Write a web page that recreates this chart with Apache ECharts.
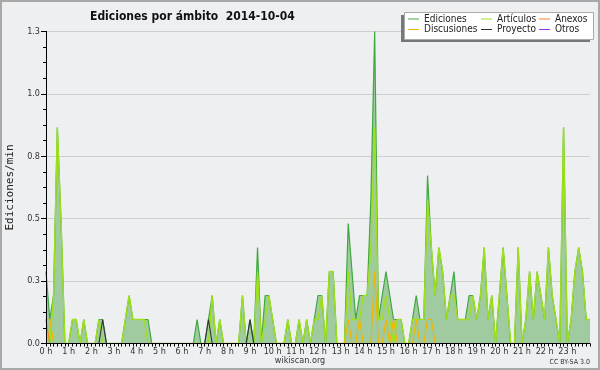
<!DOCTYPE html>
<html><head><meta charset="utf-8">
<script src="https://cdn.jsdelivr.net/npm/echarts@6/dist/echarts.min.js"></script>
<style>html,body{margin:0;padding:0;background:#eeeff1}#c{width:600px;height:370px}</style>
</head><body><div id="c"></div>
<script>
// 10-minute bins, 6 per hour, 0 h .. 24 h
const binsPerHour = 6;
const hourLabels = ['0 h','1 h','2 h','3 h','4 h','5 h','6 h','7 h','8 h','9 h','10 h','11 h',
  '12 h','13 h','14 h','15 h','16 h','17 h','18 h','19 h','20 h','21 h','22 h','23 h'];
const seriesNames = ['Ediciones','Artículos','Anexos','Discusiones','Proyecto','Otros'];

const ediciones = [
  0.3,0.1,0.2,0.9,0.5,0,0,0.1,0.1,0,
  0.1,0,0,0,0.1,0.1,0,0,0,0,
  0,0.1,0.2,0.1,0.1,0.1,0.1,0.1,0,0,
  0,0,0,0,0,0,0,0,0,0,
  0.1,0,0,0.1,0.2,0,0.1,0,0,0,
  0,0,0.2,0,0.1,0,0.4,0,0.2,0.2,
  0.1,0,0,0,0.1,0,0,0.1,0,0.1,
  0,0.1,0.2,0.2,0,0.3,0.3,0,0,0,
  0.5,0.3,0.1,0.2,0.2,0.2,0.6,1.3,0.1,0.2,
  0.3,0.2,0.1,0.1,0.1,0,0,0.1,0.2,0.1,
  0.1,0.7,0.4,0.2,0.4,0.3,0.1,0.2,0.3,0.1,
  0.1,0.1,0.2,0.2,0.1,0.2,0.4,0.1,0.2,0,
  0.2,0.4,0.2,0,0,0.4,0,0.1,0.3,0.1,
  0.3,0.2,0.1,0.4,0.2,0.1,0,0.9,0,0.1,
  0.3,0.4,0.3,0.1,0.1
];
const articulos = [
  0.1,0,0.2,0.9,0.5,0,0,0.1,0.1,0,
  0.1,0,0,0,0.1,0,0,0,0,0,
  0,0.1,0.2,0.1,0.1,0.1,0.1,0,0,0,
  0,0,0,0,0,0,0,0,0,0,
  0,0,0,0,0.2,0,0.1,0,0,0,
  0,0,0.2,0,0,0,0.3,0,0.1,0.2,
  0.1,0,0,0,0.1,0,0,0.1,0,0.1,
  0,0.1,0.1,0.2,0,0.3,0.3,0,0,0,
  0.3,0.1,0.1,0.1,0.2,0.2,0.4,0.9,0.1,0.1,
  0.2,0.1,0,0.1,0.1,0,0,0.1,0.1,0.1,
  0.1,0.6,0.4,0.2,0.4,0.3,0.1,0.2,0.2,0.1,
  0.1,0.1,0.1,0.2,0.1,0.2,0.4,0.1,0.2,0,
  0.2,0.4,0.2,0,0,0.4,0,0.1,0.3,0.1,
  0.3,0.2,0.1,0.4,0.2,0.1,0,0.9,0,0.1,
  0.3,0.4,0.3,0.1,0.1
];
const anexos = [
  0.1,0,0,0,0,0,0,0,0,0,
  0,0,0,0,0,0,0,0,0,0,
  0,0,0,0,0,0,0,0,0,0,
  0,0,0,0,0,0,0,0,0,0,
  0,0,0,0,0,0,0,0,0,0,
  0,0,0,0,0,0,0,0,0,0,
  0,0,0,0,0,0,0,0,0,0,
  0,0,0,0,0,0,0,0,0,0,
  0,0,0,0,0,0,0,0,0,0,
  0,0,0,0,0,0,0,0,0,0,
  0,0,0,0,0,0,0,0,0,0,
  0,0,0,0,0,0,0,0,0,0,
  0,0,0,0,0,0,0,0,0,0,
  0,0,0,0,0,0,0,0,0,0,
  0,0,0,0,0
];
const discusiones = [
  0.1,0.1,0,0,0,0,0,0,0,0,
  0,0,0,0,0,0,0,0,0,0,
  0,0,0,0,0,0,0,0,0,0,
  0,0,0,0,0,0,0,0,0,0,
  0,0,0,0,0,0,0,0,0,0,
  0,0,0,0,0,0,0,0,0,0,
  0,0,0,0,0,0,0,0,0,0,
  0,0,0,0,0,0,0,0,0,0,
  0.1,0,0,0.1,0,0,0,0.3,0,0,
  0.1,0,0.1,0,0,0,0,0,0.1,0,
  0,0.1,0.1,0,0,0,0,0,0,0,
  0,0,0,0,0,0,0,0,0,0,
  0,0,0,0,0,0,0,0,0,0,
  0,0,0,0,0,0,0,0,0,0,
  0,0,0,0,0
];
const proyecto = [
  0,0,0,0,0,0,0,0,0,0,
  0,0,0,0,0,0.1,0,0,0,0,
  0,0,0,0,0,0,0,0,0,0,
  0,0,0,0,0,0,0,0,0,0,
  0,0,0,0.1,0,0,0,0,0,0,
  0,0,0,0,0.1,0,0,0,0,0,
  0,0,0,0,0,0,0,0,0,0,
  0,0,0,0,0,0,0,0,0,0,
  0,0,0,0,0,0,0,0,0,0,
  0,0,0,0,0,0,0,0,0,0,
  0,0,0,0,0,0,0,0,0,0,
  0,0,0,0,0,0,0,0,0,0,
  0,0,0,0,0,0,0,0,0,0,
  0,0,0,0,0,0,0,0,0,0,
  0,0,0,0,0
];
const otros = [
  0,0,0,0,0,0,0,0,0,0,
  0,0,0,0,0,0,0,0,0,0,
  0,0,0,0,0,0,0,0,0,0,
  0,0,0,0,0,0,0,0,0,0,
  0,0,0,0,0,0,0,0,0,0,
  0,0,0,0,0,0,0,0,0,0,
  0,0,0,0,0,0,0,0,0,0,
  0,0,0,0,0,0,0,0,0,0,
  0,0,0,0,0,0,0,0,0,0,
  0,0,0,0,0,0,0,0,0,0,
  0,0,0,0,0,0,0,0,0,0,
  0,0,0,0,0,0,0,0,0,0,
  0,0,0,0,0,0,0,0,0,0,
  0,0,0,0,0,0,0,0,0,0,
  0,0,0,0,0
];

const FONT = "'DejaVu Sans Condensed','DejaVu Sans',sans-serif";
const toPairs = arr => arr.map((v, i) => [i / binsPerHour, v]);

const colors = {
  'Ediciones': '#45aa45',
  'Artículos': '#9fe01c',
  'Anexos': '#ff7f2a',
  'Discusiones': '#f2b400',
  'Proyecto': '#333333',
  'Otros': '#9933ee'
};
const widths = {
  'Ediciones': 1.2, 'Artículos': 1.4, 'Anexos': 1.1,
  'Discusiones': 1.2, 'Proyecto': 1.1, 'Otros': 1
};
const seriesData = {
  'Ediciones': ediciones, 'Artículos': articulos, 'Anexos': anexos,
  'Discusiones': discusiones, 'Proyecto': proyecto, 'Otros': otros
};
// legend slots: [left, top]
const legendPos = {
  'Ediciones': [408, 14], 'Artículos': [481, 14], 'Anexos': [539, 14],
  'Discusiones': [408, 24.5], 'Proyecto': [481, 24.5], 'Otros': [539, 24.5]
};
const drawOrder = ['Ediciones','Artículos','Anexos','Discusiones','Proyecto','Otros'];

const chart = echarts.init(document.getElementById('c'), null, {renderer: 'canvas'});
const option = {
  backgroundColor: '#eeeff1',
  animation: false,
  title: {
    text: 'Ediciones por ámbito  2014-10-04',
    left: 85, top: 6,
    textStyle: {fontFamily: FONT, fontSize: 12, fontWeight: 'bold', color: '#111'}
  },
  grid: {left: 46, right: 10, top: 31.5, bottom: 26.5, containLabel: false, outerBoundsMode: 'none'},
  xAxis: {
    type: 'value', min: 0, max: 24, interval: 1, z: 10,
    axisLine: {lineStyle: {color: '#000', width: 1}},
    axisTick: {length: 3, lineStyle: {color: '#000'}},
    minorTick: {show: true, splitNumber: binsPerHour, length: 3, lineStyle: {color: '#000'}},
    axisLabel: {formatter: v => hourLabels[v] || '', fontSize: 9, color: '#333', margin: 4, fontFamily: FONT},
    splitLine: {show: false}
  },
  yAxis: [{
    type: 'value', min: 0, max: 1.3, interval: 0.26,
    name: 'Ediciones/min', nameLocation: 'middle', nameGap: 30,
    nameTextStyle: {fontFamily: "'DejaVu Sans Mono',monospace", fontSize: 11, color: '#222'},
    axisLine: {show: true, lineStyle: {color: '#000'}},
    axisTick: {show: true, length: 5, lineStyle: {color: '#000'}},
    minorTick: {show: true, splitNumber: 4, length: 3, lineStyle: {color: '#000'}},
    axisLabel: {formatter: v => v.toFixed(1), fontSize: 9, color: '#333', margin: 6, fontFamily: FONT},
    splitLine: {lineStyle: {color: '#cfcfcf', width: 1}}
  }, {
    type: 'value', min: 0, max: 1.3, position: 'left', z: 10,
    axisLine: {show: true, lineStyle: {color: '#000'}},
    axisTick: {show: false}, axisLabel: {show: false}, splitLine: {show: false}
  }],
  legend: seriesNames.map(n => ({
    data: [n], left: legendPos[n][0], top: legendPos[n][1], padding: 0,
    itemWidth: 11, itemHeight: 1, icon: 'rect', itemGap: 0, selectedMode: false, z: 20,
    textStyle: {fontSize: 10, fontFamily: FONT, color: '#222', lineHeight: 10}
  })),
  graphic: [
    {type: 'rect', shape: {x: 1, y: 1, width: 598, height: 368}, style: {fill: 'none', stroke: '#a8a8a8', lineWidth: 2}, z: 30, silent: true},
    {type: 'rect', shape: {x: 401, y: 15, width: 189, height: 27}, style: {fill: '#777'}, z: 15, silent: true},
    {type: 'rect', shape: {x: 404.5, y: 12.5, width: 189, height: 27}, style: {fill: '#fff', stroke: '#aaa', lineWidth: 1}, z: 16, silent: true},
    {type: 'text', x: 300, y: 361, style: {text: 'wikiscan.org', textAlign: 'center', textVerticalAlign: 'middle', fontSize: 9, fontFamily: FONT, fill: '#333'}, z: 20},
    {type: 'text', x: 590, y: 362, style: {text: 'CC BY-SA 3.0', textAlign: 'right', textVerticalAlign: 'middle', fontSize: 7, fontFamily: FONT, fill: '#333'}, z: 20}
  ],
  series: drawOrder.map((n, k) => {
    const s = {
      name: n, type: 'line', data: toPairs(seriesData[n]), symbol: 'none',
      color: colors[n], lineStyle: {width: widths[n], color: colors[n]}, z: 2 + k
    };
    if (n === 'Ediciones') {
      s.areaStyle = {color: '#a0caa0', opacity: 1};
      s.lineStyle.color = '#3fa83f';
    }
    return s;
  })
};
chart.setOption(option);
</script></body></html>
